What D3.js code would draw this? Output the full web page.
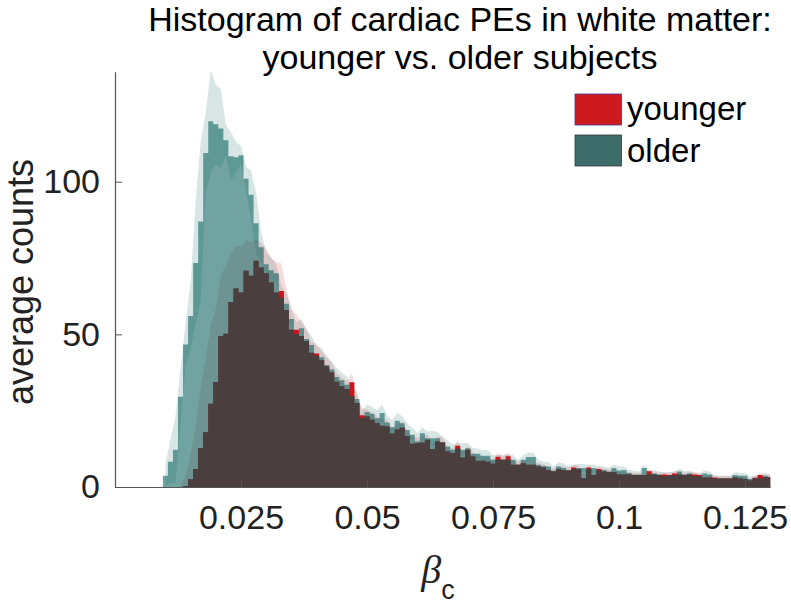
<!DOCTYPE html>
<html><head><meta charset="utf-8">
<script src="https://cdn.jsdelivr.net/npm/d3@7"></script>
<style>body{margin:0;background:#fff} svg{display:block}</style>
</head><body>
<svg id="chart" width="791" height="605"></svg>
<script>
// ---- data (bin centres 0.010 ... 0.130, width 0.001) ----
const binCenters = d3.range(10, 131).map(k => k / 1000);
const binWidth = 0.001;

const olderMean = [
 3.7, 8.3, 12.2, 29.6, 46.7, 56, 73.4, 87, 109.4, 119.8,
 118.8, 117.4, 113.6, 108.3, 108, 108.7, 101, 95.7, 86.4, 78.5,
 73, 71, 70, 62, 60, 55, 50, 52, 48.5, 46.5,
 43, 42.5, 40, 38.5, 36, 35, 33.5, 29.7, 28.8, 22.4,
 24.6, 24, 22.5, 24.2, 21.1, 19.6, 21.7, 20.9, 18.7, 17.1,
 15, 17.6, 16, 16, 16, 14.6, 13.3, 12.2, 12.6, 12.2,
 12.7, 10.9, 10.9, 10.2, 10.2, 8.9, 8.9, 8.9, 8.9, 8.9,
 7.3, 8.9, 9.8, 9.8, 7.3, 6.9, 6.7, 5.4, 6.7, 6.2,
 5.4, 5.9, 6.2, 6.2, 5.9, 6.2, 5.4, 5.6, 5.1, 6.2,
 5.4, 5.6, 4.6, 4.1, 4.1, 6.2, 4.1, 4.4, 4.1, 3.6,
 3.9, 3.9, 5.1, 4.1, 4.4, 3.6, 3.5, 4.4, 4.1, 2.8,
 2.8, 2.8, 2.8, 3.9, 3.7, 3.7, 2.6, 2.8, 2.8, 3.7,
 3.3
];
const olderErr = [
 4, 7, 11, 9, 7, 11, 20, 26, 13, 17,
 13, 13, 5, 8, 5, 3, 4, 8, 10, 5,
 4, 4, 3, 4, 3.5, 3, 4, 3, 3, 3,
 3, 3, 3, 2.6, 3, 2.4, 2.6, 2.8, 2.4, 2.6,
 2.4, 2.2, 2.6, 2.8, 2.4, 2.2, 2.6, 2.3, 2.1, 2.4,
 2.6, 2, 2.2, 2.4, 2, 1.9, 2, 1.8, 2, 2.1,
 1.8, 1.9, 1.7, 1.8, 1.9, 1.6, 1.7, 1.5, 1.8, 1.6,
 1.5, 1.6, 1.5, 1.4, 1.6, 1.4, 1.5, 1.3, 1.4, 1.5,
 1.3, 1.4, 1.3, 1.3, 1.4, 1.2, 1.3, 1.2, 1.3, 1.2,
 1.3, 1.2, 1.1, 1.2, 1.1, 1.2, 1.1, 1.2, 1, 1.1,
 1, 1.1, 1, 1.1, 1, 1, 1.1, 1, 0.9, 1,
 0.9, 1, 0.9, 1, 0.9, 1, 0.9, 0.9, 1, 0.9,
 0.9
];
const youngerMean = [
 0, 0, 0, 0, 0.3, 2.5, 5.9, 12.8, 17.9, 27.3,
 34.4, 49.5, 50.2, 60.6, 65, 63.7, 70.8, 69.2, 74.1, 71.9,
 70, 67, 63.7, 64.2, 58, 51.5, 51.5, 49.5, 47.8, 44,
 43.7, 41.5, 39.5, 37.5, 34.5, 33, 32, 34.3, 27.5, 23.5,
 23.1, 22, 21, 20.1, 19.8, 17.5, 18.8, 19.4, 16.6, 14.2,
 14.4, 14.6, 15.5, 12.4, 14.9, 14.6, 11.6, 11.1, 13.5, 9.7,
 12.2, 10, 8.6, 8.6, 8.3, 7.6, 9.9, 8.9, 10.1, 7.3,
 7.3, 7.8, 7.3, 7.3, 6.7, 6.4, 5.6, 5.1, 5.9, 5.6,
 5.4, 6.4, 5.9, 2.9, 6.4, 3.9, 5.9, 5.1, 4.8, 4.8,
 4.1, 4.1, 4.1, 3.9, 3.9, 3.9, 5.2, 4.1, 3.9, 4.1,
 3.9, 4.4, 4.1, 3.9, 4.1, 4.1, 3.9, 3.1, 3.1, 3.1,
 2.8, 2.8, 2.8, 3.1, 2.8, 2.6, 2.1, 3.0, 3.9, 3.3,
 3.3
];
const youngerErr = [
 0, 0, 0, 1, 3, 8, 14, 20, 24, 26,
 24, 20, 22, 16, 14, 15, 10, 11, 7, 8,
 8, 8, 10, 9, 7, 7, 5, 4.5, 4, 3.5,
 3.2, 3, 3, 3, 2.8, 2.8, 2.8, 3, 2.6, 2.4,
 2.3, 2.3, 2.2, 2.2, 2.2, 2, 2, 2, 1.9, 1.9,
 1.8, 1.8, 1.8, 1.7, 1.7, 1.6, 1.6, 1.5, 1.5, 1.5,
 1.4, 1.4, 1.4, 1.3, 1.3, 1.3, 1.3, 1.2, 1.2, 1.2,
 1.2, 1.1, 1.1, 1.1, 1.1, 1.1, 1, 1, 1, 1,
 1, 1, 1, 1, 1, 0.9, 0.9, 0.9, 0.9, 0.9,
 0.9, 0.9, 0.9, 0.8, 0.8, 0.8, 0.8, 0.8, 0.8, 0.8,
 0.8, 0.8, 0.8, 0.8, 0.8, 0.7, 0.7, 0.7, 0.7, 0.7,
 0.7, 0.7, 0.7, 0.7, 0.7, 0.7, 0.7, 0.7, 0.7, 0.7,
 0.7
];
const xTicks = [0.025, 0.05, 0.075, 0.1, 0.125];
const xTickLabels = ["0.025", "0.05", "0.075", "0.1", "0.125"];
const yTicks = [0, 50, 100];
const legendLabels = ["younger", "older"];
const titleLines = ["Histogram of cardiac PEs in white matter:", "younger vs. older subjects"];

// ---- drawing ----
const svg = d3.select("#chart");
const FONT = "'Liberation Sans', Arial, Helvetica, sans-serif";
const x = d3.scaleLinear().domain([0, 0.13]).range([115, 770.2]);
const y = d3.scaleLinear().domain([0, 136]).range([487, 71.8]);

svg.append("defs").append("clipPath").attr("id", "plotclip")
  .append("rect").attr("x", x(0)).attr("y", y(136)).attr("width", x(0.13) - x(0)).attr("height", y(0) - y(136));

const rows = binCenters.map((c, i) => ({
  c, om: olderMean[i], oe: olderErr[i], ym: youngerMean[i], ye: youngerErr[i]
}));

const plot = svg.append("g").attr("clip-path", "url(#plotclip)");

// error bands (linear through bin centres)
const olderBand = d3.area().x(d => x(d.c)).y0(d => y(Math.max(0, d.om - d.oe))).y1(d => y(d.om + d.oe));
const youngerBand = d3.area().x(d => x(d.c)).y0(d => y(Math.max(0, d.ym - d.ye))).y1(d => y(d.ym + d.ye));

plot.append("path").datum(rows).attr("d", olderBand).attr("fill", "rgb(8,97,93)").attr("fill-opacity", 0.16);
plot.append("path").datum(rows.filter(d => d.ym + d.ye > 0)).attr("d", youngerBand)
  .attr("fill", "rgb(200,22,28)").attr("fill-opacity", 0.15);

// histogram bars drawn as one step outline per series (no seams)
function stepSeries(accessor, fill, opacity) {
  const pts = rows.map(d => ({ e: d.c - binWidth / 2, v: accessor(d) }));
  const last = rows[rows.length - 1];
  pts.push({ e: last.c + binWidth / 2, v: accessor(last) });
  const area = d3.area().curve(d3.curveStepAfter)
    .x(p => x(p.e)).y0(y(0)).y1(p => y(p.v));
  plot.append("path").datum(pts).attr("d", area)
    .attr("fill", fill).attr("fill-opacity", opacity);
}
stepSeries(d => d.ym, "rgb(200,22,28)", 1);
stepSeries(d => d.om, "rgb(8,97,93)", 0.58);
stepSeries(d => Math.min(d.ym, d.om), "rgb(75,62,63)", 1);

// axes
const xAxis = d3.axisBottom(x).tickValues(xTicks).tickFormat((d, i) => xTickLabels[i])
  .tickSizeInner(-7).tickSizeOuter(0).tickPadding(18);
const yAxis = d3.axisLeft(y).tickValues(yTicks).tickFormat(d3.format("d"))
  .tickSizeInner(-7).tickSizeOuter(0).tickPadding(15);

const gx = svg.append("g").attr("transform", `translate(0,${y(0)})`).call(xAxis);
const gy = svg.append("g").attr("transform", `translate(${x(0)},0)`).call(yAxis);
[gx, gy].forEach(g => {
  g.select(".domain").attr("stroke", "#555").attr("stroke-width", 1.2);
  g.selectAll(".tick line").attr("stroke", "#555");
  g.selectAll(".tick text").attr("fill", "#222").style("font-family", FONT).style("font-size", "34px");
});

// title
svg.append("g").selectAll("text").data(titleLines).join("text")
  .attr("x", 460).attr("y", (d, i) => 31 + i * 38)
  .attr("text-anchor", "middle")
  .style("font-family", FONT).style("font-size", "34px").attr("fill", "#000")
  .text(d => d);

// y label
svg.append("text")
  .attr("transform", "translate(33,282) rotate(-90)")
  .attr("text-anchor", "middle")
  .style("font-family", FONT).style("font-size", "36px").attr("fill", "#222")
  .text("average counts");

// x label: beta subscript c
const xl = svg.append("text").attr("x", 438).attr("y", 583).attr("text-anchor", "middle").attr("fill", "#222");
xl.append("tspan").style("font-family", "'Liberation Serif', 'DejaVu Serif', serif").style("font-style", "italic").style("font-size", "40px").text("β");
xl.append("tspan").attr("dy", 16).style("font-family", FONT).style("font-size", "27px").text("c");

// legend
const legendColors = ["rgb(205,26,31)", "rgb(62,108,106)"];
const legendStroke = ["rgb(60,60,160)", "rgb(50,60,60)"];
const lg = svg.append("g");
legendLabels.forEach((lab, i) => {
  lg.append("rect").attr("x", 575).attr("y", 94 + i * 41).attr("width", 46.5).attr("height", 31)
    .attr("fill", legendColors[i]).attr("stroke", legendStroke[i]).attr("stroke-width", 0.8);
  lg.append("text").attr("x", 627).attr("y", 120 + i * 41.5)
    .style("font-family", FONT).style("font-size", "33px").attr("fill", "#000").text(lab);
});
</script>
</body></html>
